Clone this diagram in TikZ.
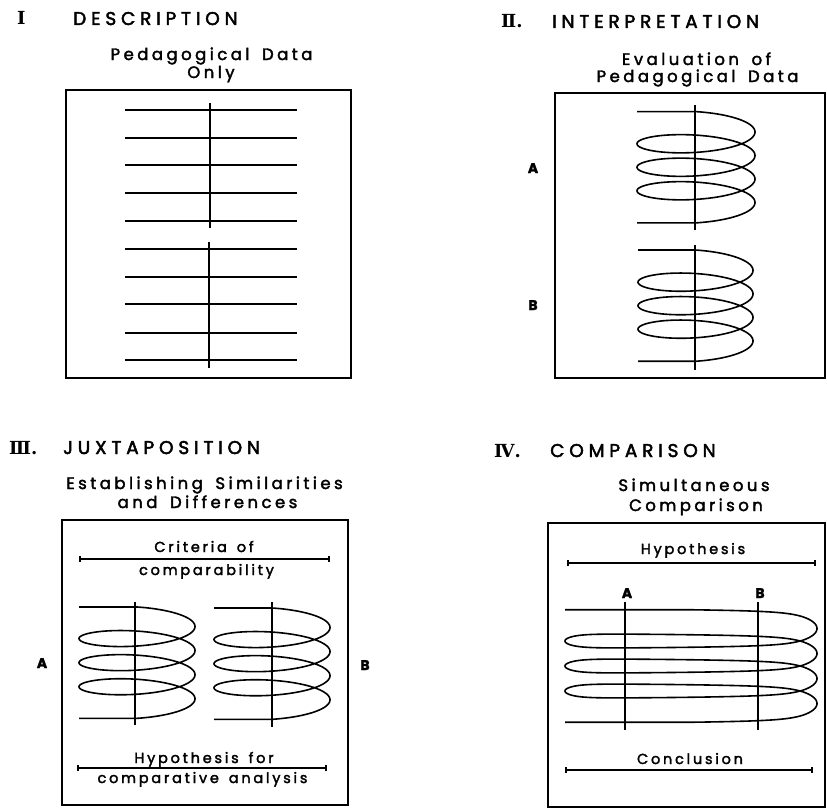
\documentclass[tikz,border=0pt]{standalone}
\usepackage{fontspec}
\usetikzlibrary{arrows.meta}
\newfontfamily\popT[LetterSpace=26,FakeBold=2.6]{Poppins}
\newfontfamily\popS[LetterSpace=21,WordSpace=1.6,FakeBold=2.2]{Poppins}
\newfontfamily\popL[LetterSpace=19,WordSpace=1.5,FakeBold=2.2]{Poppins}
\newfontfamily\romf{DejaVu Serif}
% helix coil: #1 cx, #2 turn radius, #3 extra stretch, #4 Y0, #5 pitch, #6 tilt
\newcommand\coilH[6]{%
  \pgfmathsetmacro\cL{#1-#2-#3}%
  \pgfmathsetmacro\yTop{#4-#5/4-#6}%
  \pgfmathsetmacro\yBot{#4+3.25*#5+#6}%
  \draw[coilline] (\cL,\yTop) -- plot[domain=-90:1170,samples=421]
     ({#1+#2*cos(\x)+#3*tanh(3*cos(\x))/0.99505},{#4+#5*(\x/360)+#6*sin(\x)})
     -- (\cL,\yBot);
}
\begin{document}
\begin{tikzpicture}[x=1pt,y=-1pt,
  frame/.style={line width=1.8pt},
  hline/.style={line width=1.6pt},
  vline/.style={line width=2.2pt},
  coilline/.style={line width=1.6pt,line join=round},
  bar/.style={line width=1.6pt,{Bar[width=6pt]}-{Bar[width=6pt]}},
  rom/.style={font=\romf\bfseries\fontsize{18}{20}\selectfont,anchor=base west,inner sep=0pt},
  ttl/.style={font=\popT\fontsize{18.5}{21}\selectfont,anchor=base west,inner sep=0pt},
  sub/.style={font=\popS\fontsize{16.5}{19}\selectfont,anchor=base,inner sep=0pt},
  lab/.style={font=\popL\fontsize{14.5}{17}\selectfont,anchor=base,inner sep=0pt},
  ab/.style={font=\popL\bfseries\fontsize{14}{16}\selectfont,anchor=base,inner sep=0pt}]
\useasboundingbox (0,0) rectangle (827,808);
% ---------- Panel I ----------
\node[rom] (n1) at (17,25) {Ⅰ};
\node[ttl] (t1) at (73,25) {DESCRIPTION};
\node[sub] (s1a) at (211.5,60) {Pedagogical Data};
\node[sub] (s1b) at (211,78) {Only};
\draw[frame] (66,90) rectangle (351,378);
\foreach \y in {110,138,165,193,221,249,277,304,333,360}
  \draw[hline] (125,\y) -- (297,\y);
\draw[vline] (210,103) -- (210,228);
\draw[vline] (209,242) -- (209,368);
% ---------- Panel II ----------
\node[rom] (n2) at (501,28) {Ⅱ.};
\node[ttl] (t2) at (552,28) {INTERPRETATION};
\node[sub] (s2a) at (696.5,65) {Evaluation of};
\node[sub] (s2b) at (697.5,82) {Pedagogical Data};
\draw[frame] (555,93) rectangle (825,378);
\node[ab] (a2) at (533,173) {A};
\node[ab] (b2) at (533,310) {B};
\coilH{696}{59}{0}{132}{23.5}{14.5}
\coilH{695.5}{57.5}{0}{270.4}{23.5}{14.5}
\draw[vline] (695,105) -- (695,230);
\draw[vline] (695,245) -- (695,370);
% ---------- Panel III ----------
\node[rom] (n3) at (9,454) {Ⅲ.};
\node[ttl] (t3) at (63,454) {JUXTAPOSITION};
\node[sub] (s3a) at (204.5,489) {Establishing Similarities};
\node[sub] (s3b) at (207.5,508) {and Differences};
\draw[frame] (62,520) rectangle (348,805);
\node[lab] (c3a) at (204,552) {Criteria of};
\node[lab] (c3b) at (206.5,575) {comparability};
\coordinate (c3l) at (79,559);
\coordinate (c3r) at (330,559);
\draw[bar] (c3l) -- (c3r);
\node[lab] (h3a) at (204,763) {Hypothesis for};
\node[lab] (h3b) at (202.5,783) {comparative analysis};
\coordinate (h3l) at (77,768);
\coordinate (h3r) at (327,768);
\draw[bar] (h3l) -- (h3r);
\node[ab] (a3) at (42,668) {A};
\node[ab] (b3) at (365,670) {B};
\coilH{137}{58}{0}{626.5}{24.1}{13.5}
\coilH{272}{58}{0}{627.5}{24.1}{13.5}
\draw[vline] (135,602) -- (135,725);
\draw[vline] (272,602) -- (272,727);
% ---------- Panel IV ----------
\node[rom] (n4) at (494,457) {Ⅳ.};
\node[ttl] (t4) at (550,457) {COMPARISON};
\node[sub] (s4a) at (694,491) {Simultaneous};
\node[sub] (s4b) at (696,511) {Comparison};
\draw[frame] (548,523) rectangle (825,807);
\node[lab] (h4) at (693,554) {Hypothesis};
\coordinate (h4l) at (567,563);
\coordinate (h4r) at (816,563);
\draw[bar] (h4l) -- (h4r);
\node[ab] (a4) at (627,598) {A};
\node[ab] (b4) at (760,598) {B};
\coilH{691}{45}{81}{628.5}{25}{12.5}
\draw[vline] (625,602) -- (625,730);
\draw[vline] (758,602) -- (758,730);
\node[lab] (c4) at (690,764) {Conclusion};
\coordinate (c4l) at (565,770);
\coordinate (c4r) at (813,770);
\draw[bar] (c4l) -- (c4r);
\end{tikzpicture}
\end{document}
